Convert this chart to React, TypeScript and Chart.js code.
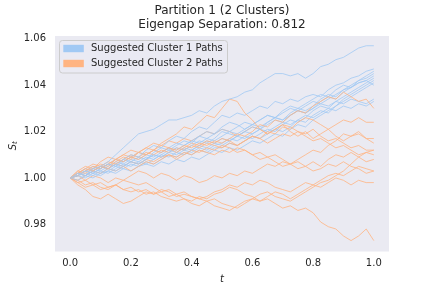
import React, { useEffect, useRef } from "react";
import { Chart, registerables } from "chart.js";

Chart.register(...registerables);

const tGrid = [
  0, 0.025, 0.05, 0.075, 0.1, 0.125, 0.15, 0.175, 0.2, 0.225, 0.25, 0.275, 0.3, 0.325, 0.35, 0.375, 0.4, 0.425, 0.45, 0.475,
  0.5, 0.525, 0.55, 0.575, 0.6, 0.625, 0.65, 0.675, 0.7, 0.725, 0.75, 0.775, 0.8, 0.825, 0.85, 0.875, 0.9, 0.925, 0.95, 0.975, 1.0,
];

const cluster1Paths = [
  [1.000,1.002,1.001,1.004,1.005,1.007,1.010,1.013,1.016,1.019,1.020,1.021,1.023,1.025,1.025,1.026,1.027,1.029,1.028,1.031,1.033,1.034,1.035,1.037,1.038,1.041,1.043,1.045,1.045,1.044,1.045,1.043,1.045,1.048,1.049,1.051,1.052,1.054,1.056,1.057,1.057],
  [1.000,1.001,1.003,1.002,1.004,1.006,1.005,1.008,1.010,1.009,1.012,1.014,1.013,1.016,1.018,1.017,1.020,1.022,1.021,1.024,1.027,1.026,1.028,1.027,1.029,1.031,1.030,1.033,1.032,1.034,1.033,1.035,1.036,1.035,1.038,1.040,1.041,1.043,1.044,1.046,1.047],
  [1.000,1.002,1.001,1.003,1.005,1.004,1.006,1.005,1.007,1.009,1.008,1.011,1.013,1.012,1.014,1.016,1.015,1.018,1.020,1.019,1.022,1.024,1.023,1.021,1.023,1.025,1.027,1.026,1.029,1.031,1.030,1.032,1.034,1.036,1.035,1.038,1.040,1.039,1.042,1.044,1.046],
  [1.000,0.999,1.001,1.003,1.002,1.004,1.003,1.005,1.007,1.006,1.008,1.010,1.009,1.011,1.013,1.012,1.014,1.016,1.015,1.017,1.020,1.019,1.018,1.020,1.022,1.021,1.024,1.026,1.025,1.028,1.030,1.029,1.031,1.034,1.036,1.035,1.038,1.040,1.042,1.043,1.045],
  [1.000,1.001,1.003,1.004,1.003,1.005,1.007,1.006,1.008,1.007,1.009,1.008,1.010,1.012,1.011,1.013,1.012,1.014,1.016,1.015,1.017,1.016,1.018,1.020,1.019,1.021,1.023,1.025,1.024,1.027,1.029,1.028,1.030,1.033,1.035,1.034,1.037,1.039,1.041,1.042,1.044],
  [1.000,1.002,1.004,1.003,1.005,1.004,1.006,1.008,1.007,1.006,1.008,1.010,1.009,1.011,1.010,1.012,1.011,1.013,1.012,1.014,1.015,1.017,1.016,1.018,1.017,1.019,1.021,1.020,1.023,1.025,1.024,1.026,1.029,1.031,1.030,1.033,1.035,1.037,1.039,1.041,1.043],
  [1.000,1.001,1.000,1.002,1.001,1.003,1.005,1.004,1.006,1.005,1.007,1.006,1.008,1.010,1.009,1.011,1.010,1.012,1.011,1.013,1.013,1.015,1.014,1.016,1.018,1.017,1.019,1.021,1.020,1.022,1.025,1.024,1.027,1.029,1.028,1.031,1.034,1.036,1.038,1.040,1.042],
  [1.000,1.002,1.001,1.000,1.002,1.003,1.002,1.004,1.003,1.005,1.006,1.005,1.007,1.006,1.008,1.007,1.009,1.008,1.010,1.012,1.011,1.013,1.012,1.014,1.016,1.015,1.017,1.019,1.018,1.021,1.023,1.022,1.025,1.027,1.029,1.031,1.033,1.035,1.037,1.039,1.041],
  [1.000,1.001,1.003,1.005,1.004,1.006,1.008,1.007,1.009,1.011,1.010,1.012,1.011,1.013,1.015,1.014,1.016,1.018,1.017,1.019,1.021,1.020,1.022,1.024,1.023,1.025,1.027,1.026,1.028,1.030,1.029,1.031,1.033,1.032,1.034,1.036,1.038,1.039,1.041,1.042,1.040],
  [1.000,1.002,1.003,1.002,1.004,1.006,1.005,1.007,1.009,1.008,1.010,1.009,1.011,1.013,1.012,1.014,1.016,1.015,1.017,1.016,1.018,1.020,1.019,1.021,1.023,1.022,1.024,1.026,1.025,1.027,1.029,1.028,1.030,1.032,1.031,1.033,1.032,1.034,1.033,1.032,1.034],
  [1.000,1.001,1.002,1.001,1.003,1.002,1.004,1.006,1.005,1.007,1.006,1.008,1.010,1.009,1.011,1.010,1.012,1.014,1.013,1.015,1.014,1.016,1.018,1.017,1.019,1.021,1.020,1.022,1.024,1.023,1.025,1.027,1.026,1.028,1.030,1.029,1.031,1.030,1.032,1.031,1.033],
];

const cluster2Paths = [
  [1.000,1.002,1.004,1.003,1.005,1.004,1.007,1.009,1.008,1.011,1.013,1.012,1.015,1.017,1.019,1.022,1.021,1.024,1.027,1.026,1.030,1.034,1.033,1.028,1.025,1.021,1.019,1.021,1.023,1.020,1.018,1.020,1.017,1.019,1.021,1.018,1.016,1.018,1.019,1.017,1.017],
  [1.000,1.001,1.003,1.005,1.004,1.006,1.008,1.007,1.009,1.008,1.010,1.012,1.011,1.013,1.012,1.014,1.013,1.015,1.014,1.016,1.015,1.017,1.019,1.018,1.020,1.023,1.022,1.025,1.024,1.027,1.029,1.028,1.031,1.033,1.035,1.034,1.037,1.035,1.033,1.034,1.030],
  [1.000,1.003,1.002,1.004,1.006,1.005,1.008,1.010,1.009,1.011,1.010,1.012,1.014,1.013,1.011,1.013,1.015,1.014,1.016,1.015,1.017,1.016,1.014,1.016,1.018,1.017,1.020,1.019,1.022,1.021,1.024,1.026,1.025,1.023,1.021,1.023,1.025,1.024,1.026,1.024,1.024],
  [1.000,1.002,1.004,1.006,1.005,1.007,1.006,1.008,1.010,1.009,1.011,1.010,1.012,1.011,1.013,1.012,1.014,1.013,1.015,1.014,1.013,1.015,1.014,1.016,1.018,1.017,1.015,1.017,1.019,1.018,1.020,1.019,1.021,1.018,1.016,1.017,1.015,1.013,1.014,1.012,1.012],
  [1.000,0.999,1.001,1.003,1.002,1.004,1.003,1.005,1.007,1.006,1.008,1.007,1.009,1.010,1.008,1.010,1.012,1.011,1.013,1.012,1.014,1.013,1.011,1.012,1.010,1.011,1.009,1.010,1.008,1.006,1.007,1.005,1.007,1.005,1.008,1.010,1.009,1.011,1.009,1.007,1.008],
  [1.000,1.002,1.001,1.003,1.005,1.004,1.006,1.005,1.003,1.005,1.007,1.006,1.008,1.010,1.009,1.011,1.010,1.012,1.011,1.010,1.012,1.011,1.013,1.012,1.010,1.008,1.009,1.007,1.005,1.006,1.004,1.005,1.003,1.004,1.006,1.005,1.007,1.005,1.004,1.002,1.003],
  [1.000,0.998,0.996,0.997,0.995,0.996,0.997,0.999,0.998,0.997,0.998,0.996,0.994,0.995,0.993,0.994,0.992,0.991,0.992,0.994,0.995,0.997,0.996,0.998,0.997,0.999,0.998,0.996,0.995,0.994,0.996,0.998,0.997,0.999,1.001,1.002,1.001,1.003,1.005,1.004,1.003],
  [1.000,0.997,0.995,0.992,0.991,0.993,0.991,0.989,0.990,0.992,0.994,0.993,0.995,0.994,0.992,0.993,0.992,0.991,0.990,0.991,0.989,0.988,0.987,0.989,0.991,0.990,0.992,0.994,0.993,0.991,0.993,0.995,0.997,0.996,0.998,1.000,0.999,0.997,0.999,0.998,0.998],
  [1.000,0.999,0.997,0.998,0.996,0.995,0.997,0.995,0.994,0.995,0.993,0.994,0.992,0.991,0.990,0.991,0.989,0.988,0.990,0.988,0.987,0.986,0.988,0.990,0.991,0.993,0.994,0.992,0.991,0.990,0.992,0.994,0.996,0.998,0.999,1.001,1.003,1.006,1.009,1.011,1.012],
  [1.000,0.998,0.999,0.997,0.998,0.996,0.997,0.995,0.996,0.994,0.995,0.993,0.994,0.992,0.993,0.991,0.990,0.992,0.991,0.993,0.994,0.996,0.995,0.993,0.992,0.990,0.991,0.989,0.987,0.988,0.986,0.987,0.985,0.981,0.979,0.978,0.975,0.973,0.975,0.978,0.973],
  [1.000,1.001,0.999,1.001,1.000,0.998,1.000,0.999,1.001,1.003,1.002,1.000,1.002,1.001,0.999,1.001,1.000,0.998,0.999,1.001,1.000,1.002,1.001,1.003,1.002,1.004,1.006,1.005,1.007,1.006,1.008,1.010,1.012,1.011,1.014,1.016,1.019,1.018,1.020,1.017,1.015],
  [1.000,1.003,1.005,1.004,1.007,1.009,1.008,1.010,1.012,1.011,1.013,1.015,1.014,1.016,1.015,1.017,1.016,1.018,1.020,1.019,1.021,1.020,1.018,1.020,1.022,1.021,1.019,1.021,1.023,1.022,1.020,1.018,1.016,1.017,1.015,1.013,1.014,1.012,1.010,1.011,1.010],
];

const xTicks = [0, 0.2, 0.4, 0.6, 0.8, 1.0];
const yTicks = [0.98, 1.0, 1.02, 1.04, 1.06];
const titleLines = ["Partition 1 (2 Clusters)", "Eigengap Separation: 0.812"];
const legendLabels = ["Suggested Cluster 1 Paths", "Suggested Cluster 2 Paths"];

const BLUE = "#a1c9f4";
const ORANGE = "#ffb482";
const BLUE_LINE = "rgba(161,201,244,0.8)";
const ORANGE_LINE = "rgba(255,180,130,0.8)";
const TEXT = "#262626";
const FONT = "'DejaVu Sans', sans-serif";

const decorPlugin = {
  id: "decor",
  beforeDraw(chart: any) {
    const { ctx, chartArea } = chart;
    ctx.save();
    ctx.fillStyle = "#ffffff";
    ctx.fillRect(0, 0, chart.width, chart.height);
    ctx.fillStyle = "#eaeaf2";
    ctx.fillRect(chartArea.left, chartArea.top, chartArea.right - chartArea.left, chartArea.bottom - chartArea.top);
    ctx.restore();
  },
  afterDatasetsDraw(chart: any) {
    const { ctx, chartArea } = chart;
    ctx.save();
    const lx = chartArea.left + 4.5;
    const ly = chartArea.top + 4.5;
    const lw = 168;
    const lh = 32.5;
    ctx.beginPath();
    (ctx as any).roundRect(lx, ly, lw, lh, 3);
    ctx.fillStyle = "rgba(234,234,242,0.8)";
    ctx.fill();
    ctx.strokeStyle = "#cccccc";
    ctx.lineWidth = 1;
    ctx.stroke();
    const colors = [BLUE, ORANGE];
    ctx.font = `10px ${FONT}`;
    ctx.textBaseline = "middle";
    ctx.textAlign = "left";
    legendLabels.forEach((lab, i) => {
      const cy = chartArea.top + 12.5 + i * 15;
      ctx.fillStyle = colors[i];
      ctx.fillRect(chartArea.left + 8.3, cy - 3.7, 20.5, 7.4);
      ctx.fillStyle = TEXT;
      ctx.fillText(lab, chartArea.left + 36, cy);
    });
    ctx.restore();
  },
  afterDraw(chart: any) {
    const { ctx, chartArea } = chart;
    const cx = (chartArea.left + chartArea.right) / 2;
    ctx.save();
    ctx.fillStyle = TEXT;
    ctx.textAlign = "center";
    ctx.textBaseline = "middle";
    ctx.font = `12px ${FONT}`;
    ctx.fillText(titleLines[0], cx, 10.5);
    ctx.fillText(titleLines[1], cx, 25);
    ctx.font = `italic 10px ${FONT}`;
    ctx.fillText("t", cx, 279);
    const cy = (chartArea.top + chartArea.bottom) / 2;
    ctx.translate(13, cy + 2);
    ctx.rotate(-Math.PI / 2);
    ctx.textAlign = "left";
    ctx.font = `italic 10px ${FONT}`;
    const sw = ctx.measureText("S").width;
    ctx.font = `italic 7px ${FONT}`;
    const tw = ctx.measureText("t").width;
    const total = sw + tw;
    ctx.font = `italic 10px ${FONT}`;
    ctx.fillText("S", -total / 2, 0);
    ctx.font = `italic 7px ${FONT}`;
    ctx.fillText("t", -total / 2 + sw, 2.5);
    ctx.restore();
  },
};

export default function App() {
  const ref = useRef<HTMLCanvasElement | null>(null);
  useEffect(() => {
    document.body.style.margin = "0";
    const canvas = ref.current;
    if (!canvas) return;
    const datasets: any[] = [];
    const n = Math.max(cluster1Paths.length, cluster2Paths.length);
    for (let i = 0; i < n; i++) {
      if (i < cluster1Paths.length) {
        datasets.push({
          data: cluster1Paths[i].map((v, k) => ({ x: tGrid[k], y: v })),
          borderColor: BLUE_LINE,
          borderWidth: 1,
          pointRadius: 0,
          showLine: true,
          tension: 0,
          fill: false,
        });
      }
      if (i < cluster2Paths.length) {
        datasets.push({
          data: cluster2Paths[i].map((v, k) => ({ x: tGrid[k], y: v })),
          borderColor: ORANGE_LINE,
          borderWidth: 1,
          pointRadius: 0,
          showLine: true,
          tension: 0,
          fill: false,
        });
      }
    }
    const chart = new Chart(canvas, {
      type: "scatter",
      data: { datasets },
      options: {
        animation: false,
        responsive: false,
        devicePixelRatio: 1,
        layout: { padding: { left: 0, top: 36, right: 43, bottom: 0 } },
        plugins: { legend: { display: false }, tooltip: { enabled: false }, title: { display: false } },
        scales: {
          x: {
            type: "linear",
            min: -0.05,
            max: 1.05,
            grid: { display: false, drawTicks: false },
            border: { display: false },
            afterBuildTicks: (s: any) => {
              s.ticks = xTicks.map((v) => ({ value: v }));
            },
            afterFit: (s: any) => {
              s.height = 36.5;
            },
            ticks: {
              autoSkip: false,
              maxRotation: 0,
              padding: 6,
              color: TEXT,
              font: { family: FONT, size: 10 },
              callback: (v: any) => Number(v).toFixed(1),
            },
          },
          y: {
            type: "linear",
            min: 0.9683,
            max: 1.0612,
            grid: { display: false, drawTicks: false },
            border: { display: false },
            afterBuildTicks: (s: any) => {
              s.ticks = yTicks.map((v) => ({ value: v }));
            },
            afterFit: (s: any) => {
              s.width = 55;
            },
            ticks: {
              autoSkip: false,
              padding: 9,
              color: TEXT,
              font: { family: FONT, size: 10 },
              callback: (v: any) => Number(v).toFixed(2),
            },
          },
        },
      },
      plugins: [decorPlugin],
    });
    return () => chart.destroy();
  }, []);
  return <canvas ref={ref} width={432} height={288} style={{ display: "block", width: 432, height: 288 }} />;
}
